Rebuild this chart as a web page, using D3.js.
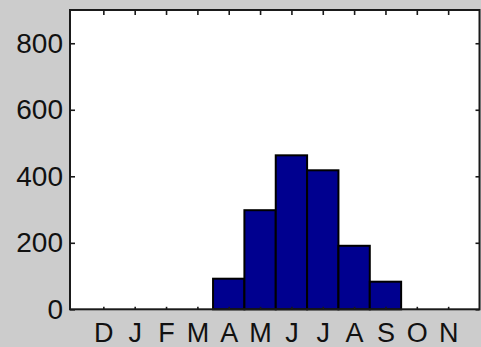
<!DOCTYPE html>
<html>
<head>
<meta charset="utf-8">
<script src="https://cdn.jsdelivr.net/npm/d3@7"></script>
<style>
  html, body { margin: 0; padding: 0; background: #cccccc; }
  svg { display: block; }
</style>
</head>
<body>
<script>
// Monthly totals, December through November
const months = ["D", "J", "F", "M", "A", "M", "J", "J", "A", "S", "O", "N"];
const values = [0, 0, 0, 0, 92, 298, 463, 418, 191, 83, 0, 0];
const yTicks = [0, 200, 400, 600, 800];

const W = 481, H = 347;
const frame = { left: 70, right: 479.5, top: 10, bottom: 309.3 };

const svg = d3.select("body").append("svg")
  .attr("width", W).attr("height", H);

// Bars sit at positions 1..12 on a 0..13 axis
const x = d3.scaleLinear().domain([0, 13]).range([72, 479.5]);
const y = d3.scaleLinear().domain([0, 900]).range([frame.bottom, frame.top]);

// White plotting area
svg.append("rect")
  .attr("x", frame.left).attr("y", frame.top)
  .attr("width", frame.right - frame.left)
  .attr("height", frame.bottom - frame.top)
  .attr("fill", "#ffffff");

// Bars
svg.append("g").selectAll("rect")
  .data(values.map((v, i) => ({ v, i })).filter(d => d.v > 0))
  .join("rect")
  .attr("x", d => x(d.i + 0.5))
  .attr("width", d => x(d.i + 1.5) - x(d.i + 0.5))
  .attr("y", d => y(d.v))
  .attr("height", d => y(0) - y(d.v))
  .attr("fill", "#00008f")
  .attr("stroke", "#000000")
  .attr("stroke-width", 2);

const axisColor = "#1a1a1a";

// Box frame
svg.append("rect")
  .attr("x", frame.left).attr("y", frame.top)
  .attr("width", frame.right - frame.left)
  .attr("height", frame.bottom - frame.top)
  .attr("fill", "none")
  .attr("stroke", axisColor)
  .attr("stroke-width", 2);

const font = "'Liberation Sans', Arial, Helvetica, sans-serif";

// Left axis with inward ticks
const leftAxis = svg.append("g")
  .attr("transform", `translate(${frame.left},0)`)
  .call(d3.axisLeft(y).tickValues(yTicks).tickSizeInner(-5).tickSizeOuter(0).tickPadding(7));
leftAxis.select(".domain").remove();
leftAxis.selectAll(".tick line").attr("stroke", axisColor).attr("stroke-width", 1.6);
leftAxis.selectAll(".tick text")
  .attr("font-family", font).attr("font-size", 28).attr("fill", "#111");

// Right-side ticks mirror the left
const rightAxis = svg.append("g")
  .attr("transform", `translate(${frame.right},0)`)
  .call(d3.axisRight(y).tickValues(yTicks).tickSizeInner(-4).tickSizeOuter(0).tickFormat(""));
rightAxis.select(".domain").remove();
rightAxis.selectAll(".tick line").attr("stroke", axisColor).attr("stroke-width", 1.6);

// Bottom axis with month initials
const bottomAxis = svg.append("g")
  .attr("transform", `translate(0,${frame.bottom})`)
  .call(d3.axisBottom(x).tickValues(d3.range(1, 13))
    .tickFormat(d => months[d - 1]).tickSizeInner(-2.5).tickSizeOuter(0).tickPadding(0));
bottomAxis.select(".domain").remove();
bottomAxis.selectAll(".tick line").attr("stroke", axisColor).attr("stroke-width", 1.6);
bottomAxis.selectAll(".tick text")
  .attr("y", 32.5).attr("dy", null)
  .attr("font-family", font).attr("font-size", 27).attr("fill", "#111");

// Top ticks
const topAxis = svg.append("g")
  .attr("transform", `translate(0,${frame.top})`)
  .call(d3.axisTop(x).tickValues(d3.range(1, 13)).tickSizeInner(-5).tickSizeOuter(0).tickFormat(""));
topAxis.select(".domain").remove();
topAxis.selectAll(".tick line").attr("stroke", axisColor).attr("stroke-width", 1.6);
</script>
</body>
</html>
